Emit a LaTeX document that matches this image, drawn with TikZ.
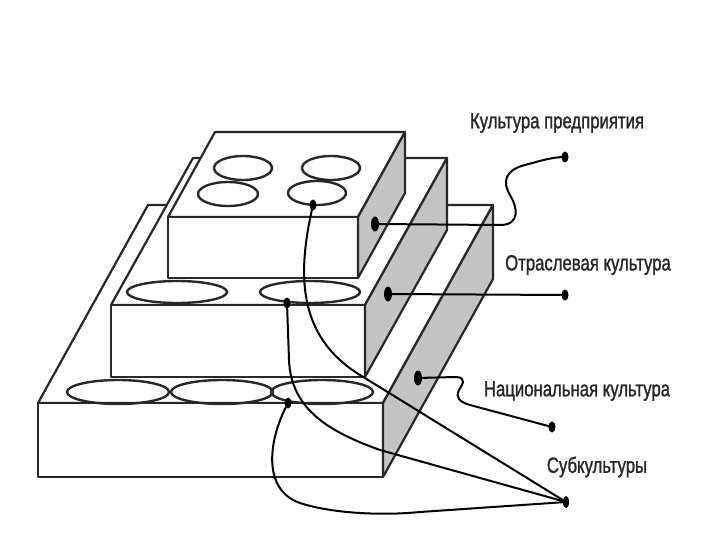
\documentclass[tikz,border=0pt]{standalone}
\usepackage{fontspec}
\setmainfont{Liberation Sans}
\newfontfamily\narrowfont[FakeStretch=0.76, FakeBold=1.2]{Liberation Sans}
\usepackage{tikz}
\usetikzlibrary{shapes.geometric}
\definecolor{EdgeGray}{RGB}{40,40,40}
\definecolor{SideGray}{RGB}{196,196,196}

\begin{document}
\begin{tikzpicture}[
  x=1pt, y=-1pt,
  face/.style={draw=EdgeGray, fill=white, line width=2.2pt, line join=round},
  side/.style={draw=EdgeGray, fill=SideGray, line width=2.2pt, line join=round},
  oval/.style={draw=EdgeGray, line width=2.4pt},
  wire/.style={line width=2pt, black},
  dot/.style={ellipse, fill=black, inner sep=0pt, minimum width=8pt, minimum height=15pt},
  tip/.style={ellipse, fill=black, inner sep=0pt, minimum width=7pt, minimum height=11pt},
  tag/.style={font=\narrowfont\fontsize{22}{24}\selectfont, text=black!85, inner sep=0pt}
]
\useasboundingbox (0,0) rectangle (720,540);

\filldraw[face] (38,403) -- (148,205) -- (493,205) -- (383,403) -- cycle;
\filldraw[face] (38,403) rectangle (383,477);
\filldraw[side] (383,403) -- (493,205) -- (493,279) -- (383,477) -- cycle;
\draw[oval] (118,392) ellipse [x radius=51, y radius=12];
\draw[oval] (222,392) ellipse [x radius=51, y radius=12];
\draw[oval] (322,392) ellipse [x radius=51, y radius=12];

\filldraw[face] (111,305) -- (193,158) -- (447,158) -- (365,305) -- cycle;
\filldraw[face] (111,305) rectangle (365,377);
\filldraw[side] (365,305) -- (447,158) -- (447,230) -- (365,377) -- cycle;
\draw[oval] (177,292) ellipse [x radius=50, y radius=11];
\draw[oval] (310,292) ellipse [x radius=50, y radius=11];

\filldraw[face] (168,217) -- (215,132) -- (405,132) -- (358,217) -- cycle;
\filldraw[face] (168,217) rectangle (358,278);
\filldraw[side] (358,217) -- (405,132) -- (405,193) -- (358,278) -- cycle;
\draw[oval] (243,168) ellipse [x radius=29, y radius=12];
\draw[oval] (331,168) ellipse [x radius=29, y radius=12];
\draw[oval] (228,194) ellipse [x radius=30, y radius=12];
\draw[oval] (317,193) ellipse [x radius=29, y radius=12];

\node[tag] (enterprise) at (557,123) {Культура предприятия};
\node[tag] (branch) at (588,265) {Отраслевая культура};
\node[tag] (national) at (577,391) {Национальная культура};
\node[tag] (subcult) at (597,467) {Субкультуры};

\node[dot] (topdot) at (375,224) {};
\node[dot] (middot) at (388,294) {};
\node[dot] (lowdot) at (418,378) {};
\node[tip] (topsub) at (313,205) {};
\node[tip] (midsub) at (287,303) {};
\node[tip] (lowsub) at (288,403) {};
\node[tip] (entend) at (565,157) {};
\node[tip] (brend) at (565,295) {};
\node[tip] (natend) at (552,427) {};
\node[tip, minimum width=6pt, minimum height=12pt] (subend) at (566,502) {};

\draw[wire] (topdot.center) -- (500,225)
  .. controls (520,225) and (518,208) .. (510,195)
  .. controls (502,182) and (505,170) .. (525,165)
  .. controls (540,161) and (552,157) .. (entend.center);
\draw[wire] (middot.center) -- (brend.center);
\draw[wire] (lowdot.center) -- (455,377)
  .. controls (468,377) and (462,385) .. (459,390)
  .. controls (455,398) and (460,402) .. (470,405) -- (natend.center);

\draw[wire] (topsub.center) .. controls (298,270) and (295,335) .. (360,375)
  -- (subend.center);
\draw[wire] (midsub.center) -- (289,360)
  .. controls (291,410) and (330,432) .. (380,450) -- (subend.center);
\draw[wire] (lowsub.center) .. controls (268,440) and (262,490) .. (300,503)
  .. controls (330,513) and (380,516) .. (420,512) -- (subend.center);
\end{tikzpicture}
\end{document}
